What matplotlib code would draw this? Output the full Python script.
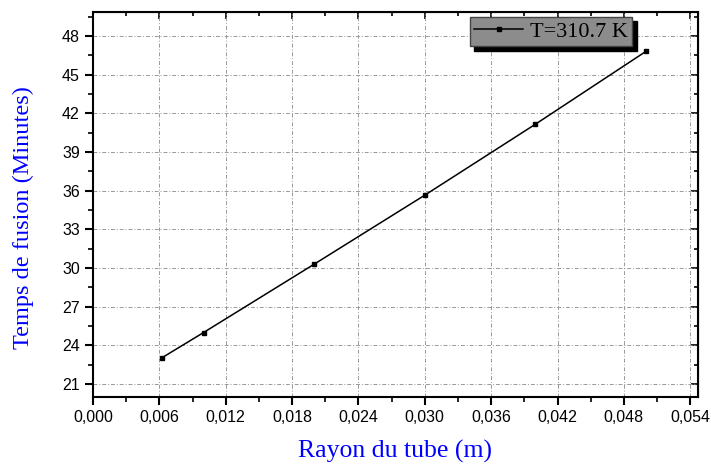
import numpy as np
import matplotlib
matplotlib.use('Agg')
import matplotlib.pyplot as plt
from matplotlib.ticker import MultipleLocator, FuncFormatter

# rayon du tube (m) et temps de fusion (min)
rayon = [0.00625, 0.01, 0.02, 0.03, 0.04, 0.05]
temps = [23.05, 25.0, 30.3, 35.65, 41.15, 46.8]
label = 'T=310.7 K'

fig = plt.figure(figsize=(7.11, 4.67), dpi=100)
ax = fig.add_axes([93/711, 70/467, 605/711, 385/467])

ax.plot(rayon, temps, color='black', lw=1.1, marker='s', ms=3.5, label=label)

ax.set_xlim(0, 0.0547)
ax.set_ylim(20.0, 49.85)
ax.xaxis.set_major_locator(MultipleLocator(0.006))
ax.xaxis.set_minor_locator(MultipleLocator(0.003))
ax.yaxis.set_major_locator(MultipleLocator(3))
ax.yaxis.set_minor_locator(MultipleLocator(1.5))
ax.xaxis.set_major_formatter(FuncFormatter(lambda v, p: f'{v:.3f}'.replace('.', ',')))
ax.set_xticks(np.arange(0, 0.0541, 0.006))
ax.set_yticks(np.arange(21, 49, 3))

ax.grid(True, which='major', color='#999999', ls=(0, (4, 2, 1, 2)), lw=0.7)
ax.tick_params(which='major', direction='out', length=6, width=1.5,
               labelsize=11.5, labelfontfamily='Liberation Sans')
ax.tick_params(which='minor', direction='out', length=3.5, width=1.2)
for s in ax.spines.values():
    s.set_linewidth(1.5)

# ticks miroirs sur le haut et la droite
axt = ax.secondary_xaxis('top')
axt.xaxis.set_major_locator(MultipleLocator(0.006))
axt.xaxis.set_minor_locator(MultipleLocator(0.003))
axt.tick_params(which='both', direction='in', labeltop=False, width=1.2)
axt.tick_params(which='major', length=5)
axt.tick_params(which='minor', length=3)
axr = ax.secondary_yaxis('right')
axr.yaxis.set_major_locator(MultipleLocator(3))
axr.yaxis.set_minor_locator(MultipleLocator(1.5))
axr.tick_params(which='both', direction='in', labelright=False, width=1.2)
axr.tick_params(which='major', length=5)
axr.tick_params(which='minor', length=3)

ax.set_xlabel('Rayon du tube (m)', color='blue', fontsize=18.5,
              family='Liberation Serif')
ax.xaxis.set_label_coords(0.5, -0.112)
ax.set_ylabel('Temps de fusion (Minutes)', color='blue', fontsize=17.5,
              family='Liberation Serif')
ax.yaxis.set_label_coords(-0.097, 0.465)

leg = ax.legend(loc='upper left', bbox_to_anchor=(377/605, 0.987),
                prop={'family': 'Liberation Serif', 'size': 16},
                fancybox=False, shadow={'color': 'black', 'alpha': 1, 'ox': 3, 'oy': -3},
                framealpha=1, borderpad=0.2, handlelength=2.2,
                handletextpad=0.3, borderaxespad=0)
leg.get_frame().set_facecolor('#8c8c8c')
leg.get_frame().set_edgecolor('#444444')

fig.savefig('out.png', dpi=100)
